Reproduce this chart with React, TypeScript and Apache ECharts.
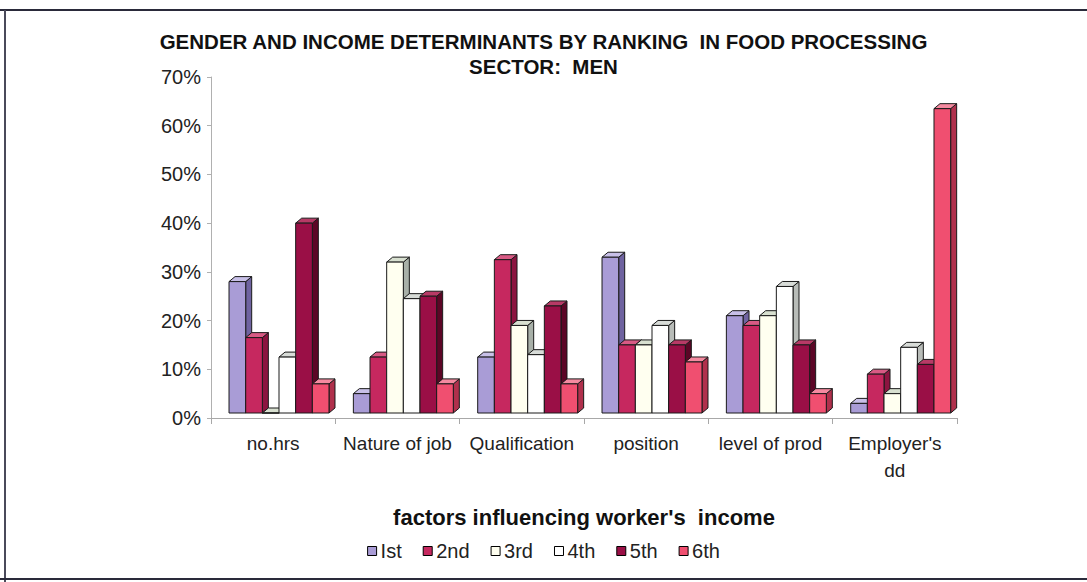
import React, { useEffect, useRef } from "react";
import * as echarts from "echarts";

const categories = ["no.hrs", "Nature of job", "Qualification", "position", "level of prod", "Employer's\ndd"];
const rankNames = ["Ist", "2nd", "3rd", "4th", "5th", "6th"];
const rank1 = [28, 5, 12.5, 33, 21, 3];
const rank2 = [16.5, 12.5, 32.5, 15, 19, 9];
const rank3 = [1, 32, 19, 15, 21, 5];
const rank4 = [12.5, 24.5, 13, 19, 27, 14.5];
const rank5 = [40, 25, 23, 15, 15, 11];
const rank6 = [7, 7, 7, 11.5, 5, 63.5];
const yTicks = [0, 10, 20, 30, 40, 50, 60, 70];

const rankValues = [rank1, rank2, rank3, rank4, rank5, rank6];
const fronts = ["#a99cd6", "#c6285f", "#fffff0", "#ffffff", "#9a0f46", "#f04f70"];
const tops = ["#c8c0e8", "#d85a84", "#d8e0d0", "#d8dcd8", "#b83a66", "#f58aa0"];
const sides = ["#6f63a0", "#8c1440", "#a8b0a8", "#b8bcb8", "#5c0626", "#b0304c"];

export default function App() {
  const ref = useRef<HTMLDivElement>(null);
  useEffect(() => {
    document.body.style.margin = "0";
    const chart = echarts.init(ref.current!, null, { renderer: "svg" });
    const series = rankValues.map((vals, idx) => ({
      type: "custom",
      name: rankNames[idx],
      itemStyle: { color: fronts[idx], borderColor: "#000", borderWidth: 1 },
      data: vals.map((v, i) => [i, v]),
      encode: { x: 0, y: 1 },
      renderItem: (params: any, api: any) => {
        const cat = api.value(0);
        const val = api.value(1);
        const top = api.coord([cat, val]);
        const base = api.coord([cat, 0]);
        const bw = api.size([1, 0])[0];
        const w = bw * 0.134;
        const left = top[0] - bw / 2 + bw * 0.145 + idx * w;
        const yBot = base[1] - 5;
        const yTop = Math.min(top[1], yBot);
        const dx = 6;
        const dy = 5;
        const stroke = "#1a1a1a";
        return {
          type: "group",
          children: [
            {
              type: "polygon",
              shape: { points: [[left + w, yBot], [left + w + dx, yBot - dy], [left + w + dx, yTop - dy], [left + w, yTop]] },
              style: { fill: sides[idx], stroke, lineWidth: 1 },
            },
            {
              type: "polygon",
              shape: { points: [[left, yTop], [left + dx, yTop - dy], [left + w + dx, yTop - dy], [left + w, yTop]] },
              style: { fill: tops[idx], stroke, lineWidth: 1 },
            },
            {
              type: "rect",
              shape: { x: left, y: yTop, width: w, height: yBot - yTop },
              style: { fill: fronts[idx], stroke, lineWidth: 1 },
            },
          ],
        };
      },
    }));
    chart.setOption({
      animation: false,
      backgroundColor: "#ffffff",
      textStyle: { fontFamily: "'Liberation Sans', Arial, sans-serif" },
      title: {
        text: "GENDER AND INCOME DETERMINANTS BY RANKING  IN FOOD PROCESSING\nSECTOR:  MEN",
        left: "center",
        top: 24,
        textStyle: {
          fontFamily: "'Liberation Sans Narrow', 'Arial Narrow', 'Liberation Sans', sans-serif",
          fontWeight: "bold",
          fontSize: 20.5,
          lineHeight: 25,
          color: "#111",
        },
      },
      legend: {
        data: rankNames,
        bottom: 16,
        left: "center",
        icon: "rect",
        itemWidth: 9,
        itemHeight: 9,
        itemGap: 21,
        itemStyle: { borderColor: "#000", borderWidth: 1 },
        textStyle: { fontSize: 20, color: "#222", padding: [0, 0, 0, -1] },
      },
      grid: { left: 211, right: 130, top: 77, bottom: 164 },
      xAxis: {
        type: "category",
        data: categories,
        name: "factors influencing worker's  income",
        nameLocation: "middle",
        nameGap: 88,
        nameTextStyle: { fontSize: 22, fontWeight: "bold", color: "#111" },
        axisLine: { lineStyle: { color: "#a8a8a8" } },
        axisTick: { show: true, length: 6, lineStyle: { color: "#a8a8a8" } },
        axisLabel: { interval: 0, fontSize: 19, color: "#222", margin: 12, lineHeight: 27 },
      },
      yAxis: {
        type: "value",
        min: 0,
        max: 70,
        interval: 10,
        axisLine: { show: true, lineStyle: { color: "#b0b0b0" } },
        axisTick: { show: true, length: 4, lineStyle: { color: "#b0b0b0" } },
        splitLine: { show: false },
        axisLabel: { fontSize: 20, color: "#222", margin: 10, formatter: (v: number) => (yTicks.includes(v) ? v + "%" : "") },
      },
      graphic: [
        { type: "line", shape: { x1: 0, y1: 10, x2: 1087, y2: 10 }, style: { stroke: "#2a2a3a", lineWidth: 2 } },
        { type: "line", shape: { x1: 5, y1: 10, x2: 5, y2: 582 }, style: { stroke: "#4a4a5a", lineWidth: 2 } },
        { type: "line", shape: { x1: 0, y1: 579, x2: 1087, y2: 579 }, style: { stroke: "#2a2a3a", lineWidth: 2 } },
      ],
      series,
    });
    return () => chart.dispose();
  }, []);
  return <div ref={ref} style={{ width: 1087, height: 582 }} />;
}
